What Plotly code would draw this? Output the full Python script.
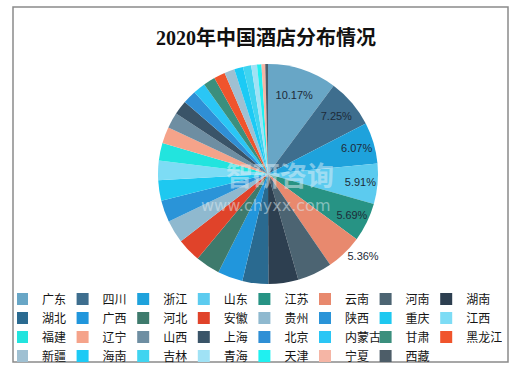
import plotly.graph_objects as go

provinces = ["广东", "四川", "浙江", "山东", "江苏", "云南", "河南", "湖南",
             "湖北", "广西", "河北", "安徽", "贵州", "陕西", "重庆", "江西",
             "福建", "辽宁", "山西", "上海", "北京", "内蒙古", "甘肃", "黑龙江",
             "新疆", "海南", "吉林", "青海", "天津", "宁夏", "西藏"]
shares = [10.17, 7.25, 6.07, 5.91, 5.69, 5.36, 5.10, 4.40,
          3.80, 3.70, 3.60, 3.50, 3.35, 3.20, 3.00, 2.85,
          2.60, 2.40, 2.30, 2.10, 2.00, 1.80, 1.75, 1.65,
          1.50, 1.30, 1.20, 0.85, 0.65, 0.55, 0.40]
label_text = ["10.17%", "7.25%", "6.07%", "5.91%", "5.69%", "5.36%"] + [""] * 25
label_pos = ["inside"] * 5 + ["outside"] + ["none"] * 25

colors = ["#68a6c6", "#3e6e8e", "#1ea2dc", "#5ccbef", "#279384", "#e8896e",
          "#4c6472", "#2d3f50", "#2a6a90", "#2196dc", "#3e7a6c", "#e0432a",
          "#8fb9cf", "#2a94d8", "#1ec8f0", "#7ddcf5", "#22e4de", "#f5a38a",
          "#6e8ea2", "#3a5468", "#2f8fd5", "#2ac6f5", "#3b8f7d", "#f0542c",
          "#9fc0d2", "#1ccaf5", "#40d4f0", "#a0e2f5", "#20f0f0", "#f5b5a5",
          "#4d5d68"]

W, H = 532, 375
cx, cy, r = 268, 174, 110

fig = go.Figure(go.Pie(
    labels=provinces, values=shares, sort=False, direction="clockwise", rotation=0,
    text=label_text, textinfo="text", textposition=label_pos,
    insidetextorientation="horizontal",
    insidetextfont=dict(family="Liberation Sans, Noto Sans", size=11, color="#1d2b38"),
    outsidetextfont=dict(family="Liberation Sans, Noto Sans", size=11, color="#1d2b38"),
    marker=dict(colors=colors, line=dict(width=0)),
    domain=dict(x=[(cx - r) / W, (cx + r) / W], y=[1 - (cy + r) / H, 1 - (cy - r) / H]),
    hoverinfo="label+percent",
))

fig.update_layout(
    width=W, height=H,
    margin=dict(l=0, r=0, t=0, b=0, autoexpand=False),
    paper_bgcolor="white",
    title=dict(text="<b>2020年中国酒店分布情况</b>", x=0.5, xanchor="center",
               y=1 - 38 / H, yanchor="middle",
               font=dict(family="Liberation Serif, Noto Sans CJK SC", size=20, color="#111")),
    showlegend=True,
    legend=dict(orientation="h", x=17 / W, xanchor="left", y=1 - 284.5 / H, yanchor="top",
                entrywidth=30.6, entrywidthmode="pixels", itemwidth=30, indentation=-15,
                bgcolor="rgba(0,0,0,0)",
                font=dict(family="Noto Sans CJK SC", size=12, color="#141414"),
                traceorder="normal"),
    shapes=[dict(type="rect", xref="paper", yref="paper",
                 x0=13 / W, x1=508 / W, y0=1 - 362 / H, y1=1 - 7 / H,
                 line=dict(color="#8a8a8a", width=1.5))],
    annotations=[
        dict(text="<b>智研咨询</b>", x=280 / W, y=1 - 174 / H, xref="paper", yref="paper",
             showarrow=False, font=dict(family="Noto Sans CJK SC", size=27,
                                        color="rgba(225,238,245,0.5)")),
        dict(text="www.chyxx.com", x=265 / W, y=1 - 205 / H, xref="paper", yref="paper",
             showarrow=False, font=dict(family="DejaVu Sans", size=16,
                                        color="rgba(225,238,245,0.5)")),
    ],
)

fig.write_html("out.html", config={"displayModeBar": False},
               post_script="document.body.style.margin='0';")
